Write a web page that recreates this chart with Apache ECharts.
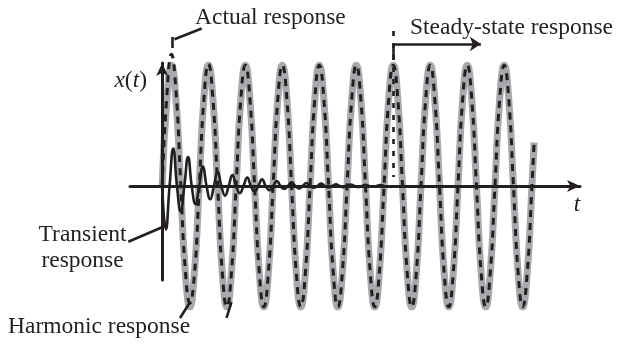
<!DOCTYPE html>
<html>
<head>
<meta charset="utf-8">
<script src="https://cdn.jsdelivr.net/npm/echarts@6/dist/echarts.min.js"></script>
<style>
  html, body { margin: 0; padding: 0; background: #ffffff; }
  #chart { width: 617px; height: 344px; }
</style>
</head>
<body>
<div id="chart"></div>
<script>
// Time samples (in forcing periods) for the harmonic and the actual response
const time = [
  0, 0.125, 0.25, 0.375, 0.5, 0.625, 0.75, 0.875,
  1, 1.125, 1.25, 1.375, 1.5, 1.625, 1.75, 1.875,
  2, 2.125, 2.25, 2.375, 2.5, 2.625, 2.75, 2.875,
  3, 3.125, 3.25, 3.375, 3.5, 3.625, 3.75, 3.875,
  4, 4.125, 4.25, 4.375, 4.5, 4.625, 4.75, 4.875,
  5, 5.125, 5.25, 5.375, 5.5, 5.625, 5.75, 5.875,
  6, 6.125, 6.25, 6.375, 6.5, 6.625, 6.75, 6.875,
  7, 7.125, 7.25, 7.375, 7.5, 7.625, 7.75, 7.875,
  8, 8.125, 8.25, 8.375, 8.5, 8.625, 8.75, 8.875,
  9, 9.125, 9.25, 9.375, 9.5, 9.625, 9.75, 9.875,
  10, 10.06
];

// Harmonic (forced) response x_h(t)
const harmonicX = [
  0, 0.71, 1, 0.71, 0, -0.71, -1, -0.71,
  0, 0.71, 1, 0.71, 0, -0.71, -1, -0.71,
  0, 0.71, 1, 0.71, 0, -0.71, -1, -0.71,
  0, 0.71, 1, 0.71, 0, -0.71, -1, -0.71,
  0, 0.71, 1, 0.71, 0, -0.71, -1, -0.71,
  0, 0.71, 1, 0.71, 0, -0.71, -1, -0.71,
  0, 0.71, 1, 0.71, 0, -0.71, -1, -0.71,
  0, 0.71, 1, 0.71, 0, -0.71, -1, -0.71,
  0, 0.71, 1, 0.71, 0, -0.71, -1, -0.71,
  0, 0.71, 1, 0.71, 0, -0.71, -1, -0.71,
  0, 0.36
];

// Actual (total) response x(t): harmonic plus the decaying transient
const actualX = [
  0, 0.74, 1.09, 0.78, 0.03, -0.69, -0.97, -0.72,
  -0.02, 0.7, 1.01, 0.71, 0, -0.71, -1, -0.71,
  0, 0.71, 1, 0.71, 0, -0.71, -1, -0.71,
  0, 0.71, 1, 0.71, 0, -0.71, -1, -0.71,
  0, 0.71, 1, 0.71, 0, -0.71, -1, -0.71,
  0, 0.71, 1, 0.71, 0, -0.71, -1, -0.71,
  0, 0.71, 1, 0.71, 0, -0.71, -1, -0.71,
  0, 0.71, 1, 0.71, 0, -0.71, -1, -0.71,
  0, 0.71, 1, 0.71, 0, -0.71, -1, -0.71,
  0, 0.71, 1, 0.71, 0, -0.71, -1, -0.71,
  0, 0.36
];

// Transient (free, damped) response
const transientT = [
  0, 0.1, 0.2, 0.3, 0.4, 0.5, 0.6, 0.7, 0.8, 0.9,
  1, 1.1, 1.2, 1.3, 1.4, 1.5, 1.6, 1.7, 1.8, 1.9,
  2, 2.1, 2.2, 2.3, 2.4, 2.5, 2.6, 2.7, 2.8, 2.9,
  3, 3.1, 3.2, 3.3, 3.4, 3.5, 3.6, 3.7, 3.8, 3.9,
  4, 4.1, 4.2, 4.3, 4.4, 4.5, 4.6, 4.7, 4.8, 4.9,
  5, 5.1, 5.2, 5.3, 5.4, 5.5, 5.6, 5.7, 5.8, 5.9,
  6
];
const transientX = [
  0, -0.36, 0, 0.31, 0, -0.21, 0, 0.24, 0, -0.15,
  0, 0.16, 0, -0.11, 0, 0.12, 0, -0.08, 0, 0.09,
  0, -0.06, 0, 0.07, 0, -0.045, 0, 0.055, 0, -0.035,
  0, 0.04, 0, -0.025, 0, 0.03, 0, -0.02, 0, 0.025,
  0, -0.015, 0, 0.02, 0, -0.012, 0, 0.015, 0, -0.01,
  0, 0.012, 0, -0.008, 0, 0.01, 0, -0.006, 0, 0.008,
  0
];

// Start of the steady state (a crest of the forced response)
const steadyStart = 6.25;

const ink = '#231f20';
const gray = '#a7a9ac';
const serif = '"Liberation Serif", "Times New Roman", serif';
const pairs = (xs, ys) => xs.map((x, i) => [x, ys[i]]);

// Leader lines for the callouts, in (t, x) units
const leaders = [
  { coords: [[1.069, 1.303], [0.333, 1.214]] },   // Actual response
  { coords: [[0.274, 1.233], [0.274, 1.142]] },
  { coords: [[-0.916, -0.461], [0.077, -0.331]] }, // Transient response
  { coords: [[0.482, -1.092], [0.766, -0.956]] },  // Harmonic response
  { coords: [[1.74, -1.092], [1.875, -0.96]] },
  { coords: [[steadyStart, 1.175], [steadyStart, 1.043]] }
];
const steadyMarker = [{ coords: [[steadyStart, 1.283], [steadyStart, 0.074]] }];
const steadyArrow = [{ coords: [[steadyStart, 1.175], [8.62, 1.175]] }];

const chart = echarts.init(document.getElementById('chart'), null, { renderer: 'canvas' });

const labelStyle = (text, x, y, align) => ({
  type: 'text', x: x, y: y, z: 10,
  style: { text: text, font: '23.5px ' + serif, fill: ink, align: align, verticalAlign: 'middle' }
});

chart.setOption({
  animation: false,
  backgroundColor: '#ffffff',
  grid: [
    { left: 130, right: 37, top: 41, height: 290 },
    { left: 130, right: 37, top: 63, bottom: 64 }
  ],
  xAxis: [
    {
      gridIndex: 0, type: 'value', min: -0.87, max: 11.3, z: 5,
      axisLine: { onZero: true, symbol: ['none', 'arrow'], symbolSize: [9, 13],
        lineStyle: { color: ink, width: 3 } },
      axisTick: { show: false }, axisLabel: { show: false }, splitLine: { show: false }
    },
    { gridIndex: 1, type: 'value', min: -0.87, max: 11.3, show: false }
  ],
  yAxis: [
    { gridIndex: 0, type: 'value', min: -1.2, max: 1.2, show: false },
    {
      gridIndex: 1, type: 'value', min: 0, max: 1, z: 5,
      axisLine: { show: true, onZero: true, symbol: ['none', 'arrow'], symbolSize: [9, 13],
        lineStyle: { color: ink, width: 3 } },
      axisTick: { show: false }, axisLabel: { show: false }, splitLine: { show: false }
    }
  ],
  series: [
    {
      name: 'Harmonic response', type: 'line', xAxisIndex: 0, yAxisIndex: 0,
      data: pairs(time, harmonicX), smooth: true, symbol: 'none', z: 2,
      lineStyle: { color: gray, width: 7 }
    },
    {
      name: 'Transient response', type: 'line', xAxisIndex: 0, yAxisIndex: 0,
      data: pairs(transientT, transientX), smooth: true, symbol: 'none', z: 3,
      lineStyle: { color: ink, width: 2.6 }
    },
    {
      name: 'Actual response', type: 'line', xAxisIndex: 0, yAxisIndex: 0,
      data: pairs(time, actualX), smooth: true, symbol: 'none', z: 4,
      lineStyle: { color: ink, width: 3, type: [7, 6] }
    },
    {
      type: 'lines', coordinateSystem: 'cartesian2d', xAxisIndex: 0, yAxisIndex: 0,
      clip: false, z: 6, data: leaders, symbol: 'none',
      lineStyle: { color: ink, width: 2.6, opacity: 1 }
    },
    {
      type: 'lines', coordinateSystem: 'cartesian2d', xAxisIndex: 0, yAxisIndex: 0,
      clip: false, z: 6, data: steadyMarker, symbol: 'none',
      lineStyle: { color: ink, width: 2.6, opacity: 1, type: [5, 7] }
    },
    {
      type: 'lines', coordinateSystem: 'cartesian2d', xAxisIndex: 0, yAxisIndex: 0,
      clip: false, z: 6, data: steadyArrow, symbol: ['none', 'arrow'], symbolSize: 11,
      lineStyle: { color: ink, width: 2.6, opacity: 1 }
    }
  ],
  graphic: [
    labelStyle('Actual response', 195, 17.7, 'left'),
    labelStyle('Steady-state response', 410, 28.3, 'left'),
    labelStyle('Transient', 82.5, 234.5, 'center'),
    labelStyle('response', 82.5, 260.5, 'center'),
    labelStyle('Harmonic response', 8, 327, 'left'),
    {
      type: 'text', x: 147, y: 81, z: 10,
      style: {
        text: '{i|x}({i|t})', font: '23.5px ' + serif, fill: ink, align: 'right', verticalAlign: 'middle',
        rich: { i: { fontStyle: 'italic', fontFamily: serif, fontSize: 23.5, fill: ink } }
      }
    },
    {
      type: 'text', x: 577, y: 205, z: 10,
      style: { text: 't', font: 'italic 23.5px ' + serif, fill: ink, align: 'center', verticalAlign: 'middle' }
    }
  ]
});
</script>
</body>
</html>
